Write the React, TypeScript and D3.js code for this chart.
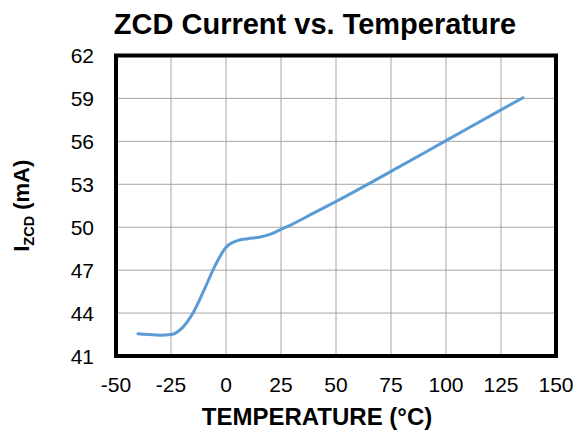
import * as d3 from 'd3';

const temps = [-40, -35, -30, -25, -20, -15, -10, -5, 0, 5, 10, 15, 20, 25, 30, 40, 50, 75, 100, 125, 135];
const current = [42.55, 42.5, 42.45, 42.5, 42.95, 44.0, 45.6, 47.3, 48.6, 49.05, 49.2, 49.3, 49.5, 49.85, 50.2, 51.0, 51.8, 53.9, 56.05, 58.2, 59.05];
const xTicks = [-50, -25, 0, 25, 50, 75, 100, 125, 150];
const yTicks = [41, 44, 47, 50, 53, 56, 59, 62];

const W = 579;
const H = 432;
const left = 116;
const right = 556;
const top = 55.5;
const bottom = 356;
const font = 'Arial, "Liberation Sans", sans-serif';

export default function App() {
  const x = d3.scaleLinear().domain([-50, 150]).range([left, right]);
  const y = d3.scaleLinear().domain([41, 62]).range([bottom, top]);

  const line = d3
    .line<number>()
    .x((_, i) => x(temps[i]))
    .y((d) => y(d))
    .curve(d3.curveMonotoneX);

  return (
    <svg
      width={W}
      height={H}
      style={{ position: 'absolute', left: 0, top: 0, background: '#fff' }}
      fontFamily={font}
    >
      <text x={315} y={34} textAnchor="middle" fontSize={29} fontWeight="bold">
        ZCD Current vs. Temperature
      </text>

      {/* grid */}
      {xTicks.slice(1, -1).map((t) => (
        <line key={'gx' + t} x1={x(t)} x2={x(t)} y1={top} y2={bottom} stroke="#a6a6a6" strokeWidth={1} />
      ))}
      {yTicks.slice(1, -1).map((t) => (
        <line key={'gy' + t} x1={left} x2={right} y1={y(t)} y2={y(t)} stroke="#a6a6a6" strokeWidth={1} />
      ))}

      <path d={line(current) ?? ''} fill="none" stroke="#5b9bd5" strokeWidth={3} strokeLinecap="round" />

      <rect x={left} y={top} width={right - left} height={bottom - top} fill="none" stroke="#000" strokeWidth={4} />

      {yTicks.map((t) => (
        <text key={'yl' + t} x={94} y={y(t)} dy="0.36em" textAnchor="end" fontSize={21}>
          {t}
        </text>
      ))}
      {xTicks.map((t) => (
        <text key={'xl' + t} x={x(t)} y={392} textAnchor="middle" fontSize={21}>
          {t}
        </text>
      ))}

      <text x={317} y={425} textAnchor="middle" fontSize={24} fontWeight="bold">
        TEMPERATURE (°C)
      </text>

      <text
        transform={`translate(29, ${(top + bottom) / 2}) rotate(-90)`}
        textAnchor="middle"
        fontSize={22}
        fontWeight="bold"
      >
        I
        <tspan fontSize={14.5} dy={5}>
          ZCD
        </tspan>
        <tspan dy={-5}> (mA)</tspan>
      </text>
    </svg>
  );
}
